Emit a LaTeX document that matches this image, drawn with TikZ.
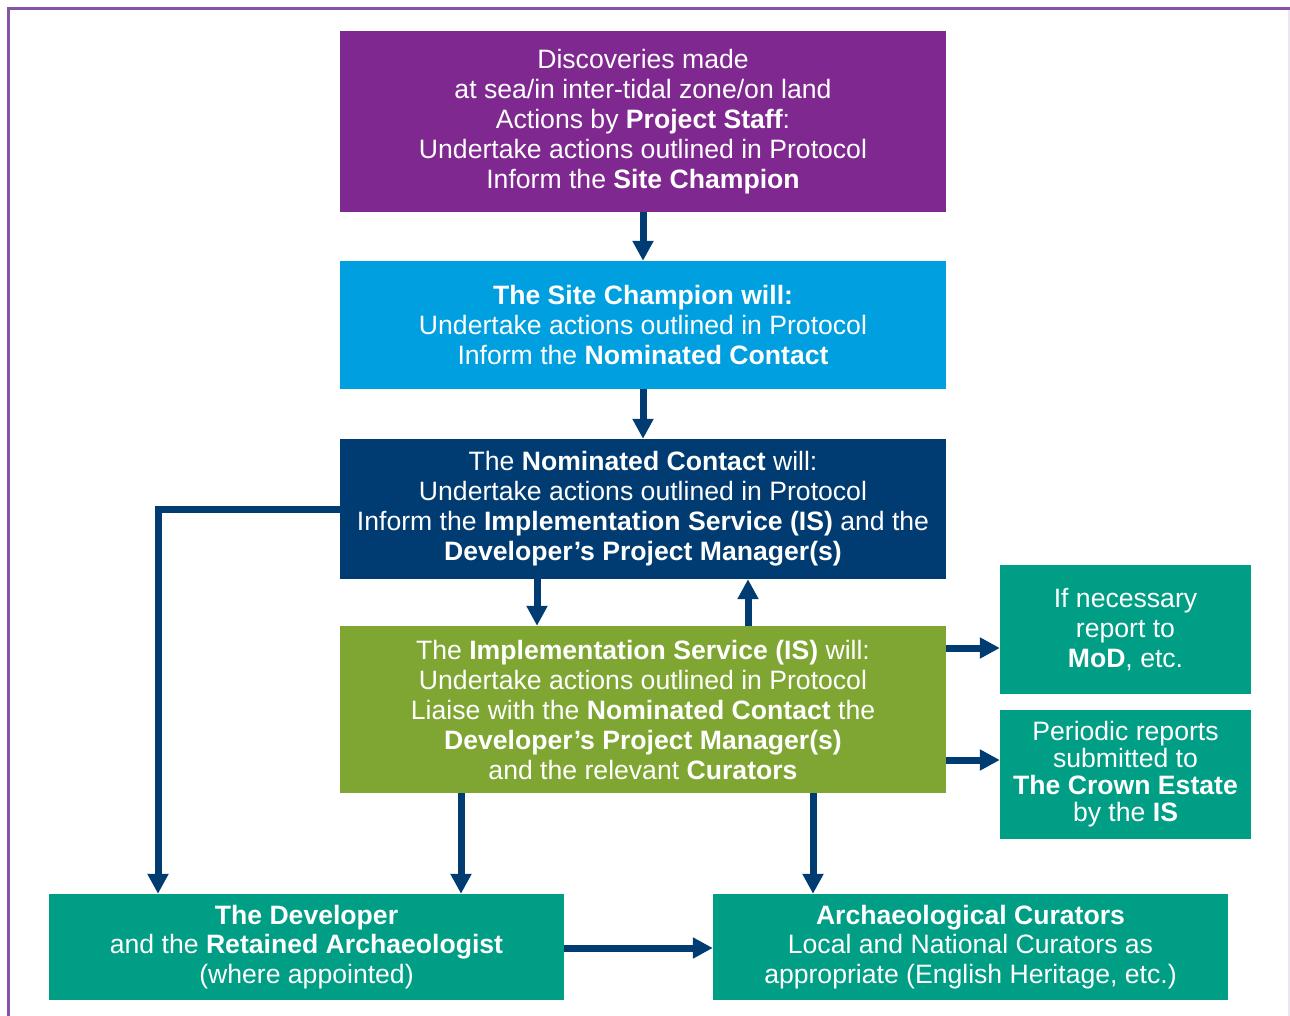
\documentclass[tikz,border=0pt]{standalone}
\usepackage{fontspec}
\setmainfont{Liberation Sans}
\usetikzlibrary{arrows.meta}
\definecolor{cpurple}{HTML}{7F2890}
\definecolor{cblue}{HTML}{009FDF}
\definecolor{cnavy}{HTML}{003B71}
\definecolor{cgreen}{HTML}{7FA632}
\definecolor{cteal}{HTML}{009E85}
\definecolor{cframe}{HTML}{8554A8}
\tikzset{
  box/.style={rectangle, text=white, align=center, inner sep=0pt,
    font=\fontsize{26.6}{30}\selectfont},
  bigbox/.style={box, minimum width=606pt},
  sidebox/.style={box, fill=cteal, minimum width=251pt, minimum height=129pt},
  botbox/.style={box, fill=cteal, minimum width=515pt, minimum height=106pt},
  arr/.style={draw=cnavy, line width=7pt, -{Triangle[width=20pt,length=20pt]}},
}
\begin{document}
\begin{tikzpicture}[x=1pt,y=-1pt]
\useasboundingbox (0,0) rectangle (1290,1016);
\fill[white] (0,0) rectangle (1290,1016);
% frame
\draw[cframe, line width=3pt] (8.5,1016) -- (8.5,8.5) -- (1290,8.5);
\draw[cframe!15, line width=2pt] (1289,10) -- (1289,1016);

% boxes
\node[bigbox, fill=cpurple, minimum height=181pt] (b1) at (643,121.5)
  {Discoveries made\\at sea/in inter-tidal zone/on land\\Actions by \textbf{Project Staff}:\\Undertake actions outlined in Protocol\\Inform the \textbf{Site Champion}};
\node[bigbox, fill=cblue, minimum height=128pt] (b2) at (643,325)
  {\textbf{The Site Champion will:}\\Undertake actions outlined in Protocol\\Inform the \textbf{Nominated Contact}};
\node[bigbox, fill=cnavy, minimum height=140pt] (b3) at (643,509)
  {The \textbf{Nominated Contact} will:\\Undertake actions outlined in Protocol\\Inform the \textbf{Implementation Service (IS)} and the\\\textbf{Developer’s Project Manager(s)}};
\node[bigbox, fill=cgreen, minimum height=167pt] (b4) at (643,709.5)
  {The \textbf{Implementation Service (IS)} will:\\Undertake actions outlined in Protocol\\Liaise with the \textbf{Nominated Contact} the\\\textbf{Developer’s Project Manager(s)}\\and the relevant \textbf{Curators}};
\node[sidebox] (mod) at (1125.5,629.5)
  {If necessary\\report to\\\textbf{MoD}, etc.};
\node[sidebox, font=\fontsize{26.6}{27}\selectfont] (per) at (1125.5,774.5)
  {Periodic reports\\submitted to\\\textbf{The Crown Estate}\\by the \textbf{IS}};
\node[botbox, font=\fontsize{26.6}{29.5}\selectfont] (dev) at (306.5,947)
  {\textbf{The Developer}\\and the \textbf{Retained Archaeologist}\\(where appointed)};
\node[botbox, font=\fontsize{26.6}{29.5}\selectfont] (cur) at (970.5,947)
  {\textbf{Archaeological Curators}\\Local and National Curators as\\appropriate (English Heritage, etc.)};

% helper coordinates
\coordinate (xa) at (537,0);
\coordinate (xb) at (748,0);
\coordinate (xc) at (461,0);
\coordinate (xd) at (813,0);
\coordinate (xe) at (158,0);
\coordinate (ya) at (0,648);
\coordinate (yb) at (0,760);
\coordinate (yc) at (0,948);

% connectors
\draw[arr] (b1.south) -- (b2.north);
\draw[arr] (b2.south) -- (b3.north);
\draw[arr] (xa |- b3.south) -- (xa |- b4.north);
\draw[arr] (xb |- b4.north) -- (xb |- b3.south);
\draw[arr] (b3.west) -| (xe |- dev.north);
\draw[arr] (xc |- b4.south) -- (xc |- dev.north);
\draw[arr] (xd |- b4.south) -- (xd |- cur.north);
\draw[arr] (b4.east |- ya) -- (mod.west |- ya);
\draw[arr] (b4.east |- yb) -- (per.west |- yb);
\draw[arr] (dev.east |- yc) -- (cur.west |- yc);
\end{tikzpicture}
\end{document}
